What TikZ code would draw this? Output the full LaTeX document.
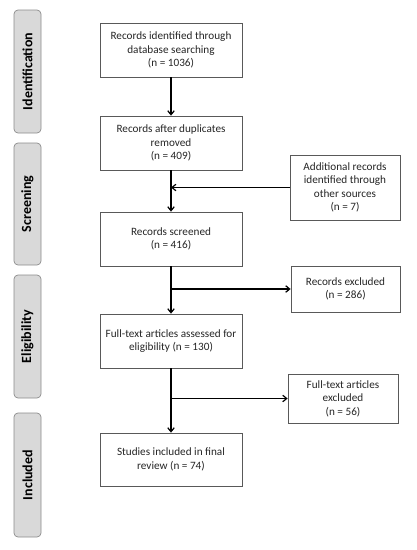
\documentclass[tikz,border=0pt]{standalone}
\usepackage{fontspec}
\setmainfont{Carlito}
\usetikzlibrary{arrows.meta}
\begin{document}
\begin{tikzpicture}[x=1pt,y=-1pt,
  box/.style={draw=black!65,line width=0.7pt,fill=white,inner sep=0pt,align=center,font=\fontsize{11.2}{13.5}\selectfont,text=black!85},
  side/.style={draw=black!45,line width=0.7pt,fill=black!15,rounded corners=4pt,inner sep=0pt},
  sidetext/.style={rotate=90,font=\fontsize{14}{16}\bfseries\selectfont},
  arr/.style={line width=1.4pt,-{Straight Barb[length=4pt,width=6.5pt,line width=1.2pt]}}]
\useasboundingbox (0,0) rectangle (416,550);
% side labels
\node[side,minimum width=27pt,minimum height=123pt] (s1) at (27.5,71.5) {};
\node[sidetext] at (s1) {Identification};
\node[side,minimum width=27pt,minimum height=122pt] (s2) at (27.5,204) {};
\node[sidetext] at (s2) {Screening};
\node[side,minimum width=27pt,minimum height=123pt] (s3) at (27.5,336.5) {};
\node[sidetext] at (s3) {Eligibility};
\node[side,minimum width=27pt,minimum height=124pt] (s4) at (27.5,475) {};
\node[sidetext] at (s4) {Included};
% main boxes
\node[box,minimum width=142pt,minimum height=54pt] (b1) at (171,50) {Records identified through\\database searching\\(n = 1036)};
\node[box,minimum width=142pt,minimum height=54pt] (b2) at (171,143) {Records after duplicates\\removed\\(n = 409)};
\node[box,minimum width=142pt,minimum height=54pt] (b3) at (171,239) {Records screened\\(n = 416)};
\node[box,minimum width=142pt,minimum height=54pt] (b4) at (171,341) {Full-text articles assessed for\\eligibility (n = 130)};
\node[box,minimum width=142pt,minimum height=53pt] (b5) at (171,459.5) {Studies included in final\\review (n = 74)};
% right boxes
\node[box,minimum width=110pt,minimum height=65pt] (r1) at (345,187.5) {Additional records\\identified through\\other sources\\(n = 7)};
\node[box,minimum width=109pt,minimum height=46pt] (r2) at (345.5,289) {Records excluded\\(n = 286)};
\node[box,minimum width=110pt,minimum height=49pt] (r3) at (343,398.5) {Full-text articles\\excluded\\(n = 56)};
% connectors
\draw[arr] (b1) -- (b2);
\draw[arr] (b2) -- (b3);
\coordinate (j1) at (b2.south |- r1.west);
\draw[arr] (r1.west) -- (j1);
\draw[arr] (b3) -- (b4);
\coordinate (j2) at (b3.south |- r2.west);
\draw[arr] (j2) -- (r2.west);
\draw[arr] (b4) -- (b5);
\coordinate (j3) at (b4.south |- r3.west);
\draw[arr] (j3) -- (r3.west);
\end{tikzpicture}
\end{document}
